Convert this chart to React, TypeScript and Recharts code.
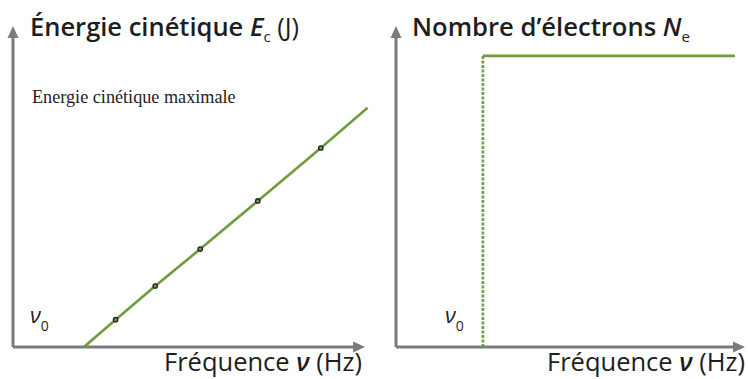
import { LineChart, Line, XAxis, YAxis, ReferenceLine, ReferenceDot } from 'recharts';

// Énergie cinétique maximale vs fréquence (arbitrary units)
const freqEc = [1.97, 2.85, 3.95, 5.2, 6.8, 8.55, 9.85];
const energyEc = [0, 0.85, 1.9, 3.05, 4.55, 6.2, 7.45];

// Nombre d'électrons vs fréquence : seuil à ν0
const nu0 = 2.49;
const nMax = 9.07;
const freqEnd = 9.71;
const stepData = [
  { f: nu0, n: nMax },
  { f: freqEnd, n: nMax },
];
const thresholdData = [
  { f: nu0, n: 0 },
  { f: nu0, n: nMax },
];

const ecData = freqEc.map((f, i) => ({ f, e: energyEc[i] }));

const GREEN = '#6e9c3e';
const AXIS = '#7b7b7b';
const TEXT = '#1e1e1e';
const SANS = '"Open Sans", "Noto Sans", sans-serif';

const arrowRight = (p: any) => (
  <polygon
    points={`${p.cx},${p.cy} ${p.cx - 12},${p.cy - 5.5} ${p.cx - 12},${p.cy + 5.5}`}
    fill={AXIS}
  />
);
const arrowUp = (p: any) => (
  <polygon
    points={`${p.cx},${p.cy} ${p.cx - 5.5},${p.cy + 12} ${p.cx + 5.5},${p.cy + 12}`}
    fill={AXIS}
  />
);

const ecDot = (p: any) => {
  if (p.index === 0 || p.index === ecData.length - 1) return <g key={p.index} />;
  return (
    <circle key={p.index} cx={p.cx} cy={p.cy} r={2.2} fill={GREEN} stroke="#222" strokeWidth={1.3} />
  );
};

function Axes({ xTip }: { xTip: number }) {
  return [
    <ReferenceLine
      key="xa"
      segment={[{ x: 0, y: 0 }, { x: xTip - 0.25, y: 0 }]}
      stroke={AXIS}
      strokeWidth={3}
    />,
    <ReferenceLine
      key="ya"
      segment={[{ x: 0, y: 0 }, { x: 0, y: 9.7 }]}
      stroke={AXIS}
      strokeWidth={3}
    />,
    <ReferenceDot key="xarr" x={xTip} y={0} ifOverflow="visible" shape={arrowRight} />,
    <ReferenceDot key="yarr" x={0} y={10} ifOverflow="visible" shape={arrowUp} />,
  ];
}

export default function App() {
  return (
    <div style={{ position: 'absolute', left: 0, top: 0, width: 748, height: 379, background: '#fff' }}>
      <div style={{ position: 'absolute', left: 0, top: 0 }}>
        <LineChart width={374} height={379} margin={{ left: 13, right: 1, top: 26, bottom: 32 }}>
          <XAxis type="number" dataKey="f" domain={[0, 10]} hide />
          <YAxis type="number" domain={[0, 10]} hide />
          {Axes({ xTip: 9.78 })}
          <Line
            data={ecData}
            dataKey="e"
            stroke={GREEN}
            strokeWidth={2.6}
            dot={ecDot}
            isAnimationActive={false}
          />
        </LineChart>
      </div>
      <div style={{ position: 'absolute', left: 374, top: 0 }}>
        <LineChart width={374} height={379} margin={{ left: 22, right: 3, top: 26, bottom: 32 }}>
          <XAxis type="number" dataKey="f" domain={[0, 10]} hide />
          <YAxis type="number" domain={[0, 10]} hide />
          {Axes({ xTip: 10 })}
          <Line
            data={thresholdData}
            dataKey="n"
            stroke={GREEN}
            strokeWidth={2.6}
            strokeDasharray="3 1.5"
            dot={false}
            isAnimationActive={false}
          />
          <Line
            data={stepData}
            dataKey="n"
            stroke={GREEN}
            strokeWidth={2.6}
            dot={false}
            isAnimationActive={false}
          />
        </LineChart>
      </div>
      <svg
        width={748}
        height={379}
        style={{ position: 'absolute', left: 0, top: 0, pointerEvents: 'none' }}
        fill={TEXT}
      >
        <text x={30} y={36} fontFamily={SANS} fontSize={25.5} fontWeight={600}>
          Énergie cinétique <tspan fontStyle="italic">E</tspan>
          <tspan fontSize={15} fontWeight={400} dy={6}>c</tspan>
          <tspan fontWeight={400} dy={-6}> (J)</tspan>
        </text>
        <text x={32} y={103} fontFamily='"Liberation Serif", serif' fontSize={18.2}>
          Energie cinétique maximale
        </text>
        <text x={30} y={323} fontFamily={SANS} fontSize={22} fontStyle="italic">
          ν<tspan fontSize={14} fontStyle="normal" dy={8}>0</tspan>
        </text>
        <text x={164} y={371} fontFamily={SANS} fontSize={25.5} fontWeight={500}>
          Fréquence <tspan fontStyle="italic" fontWeight={600}>ν</tspan>
          <tspan fontWeight={400}> (Hz)</tspan>
        </text>

        <text x={412} y={36} fontFamily={SANS} fontSize={25.6} fontWeight={600}>
          Nombre d’électrons <tspan fontStyle="italic">N</tspan>
          <tspan fontSize={15} fontWeight={400} dy={6}>e</tspan>
        </text>
        <text x={445} y={323} fontFamily={SANS} fontSize={22} fontStyle="italic">
          ν<tspan fontSize={14} fontStyle="normal" dy={8}>0</tspan>
        </text>
        <text x={547} y={371} fontFamily={SANS} fontSize={25.5} fontWeight={500}>
          Fréquence <tspan fontStyle="italic" fontWeight={600}>ν</tspan>
          <tspan fontWeight={400}> (Hz)</tspan>
        </text>
      </svg>
    </div>
  );
}
